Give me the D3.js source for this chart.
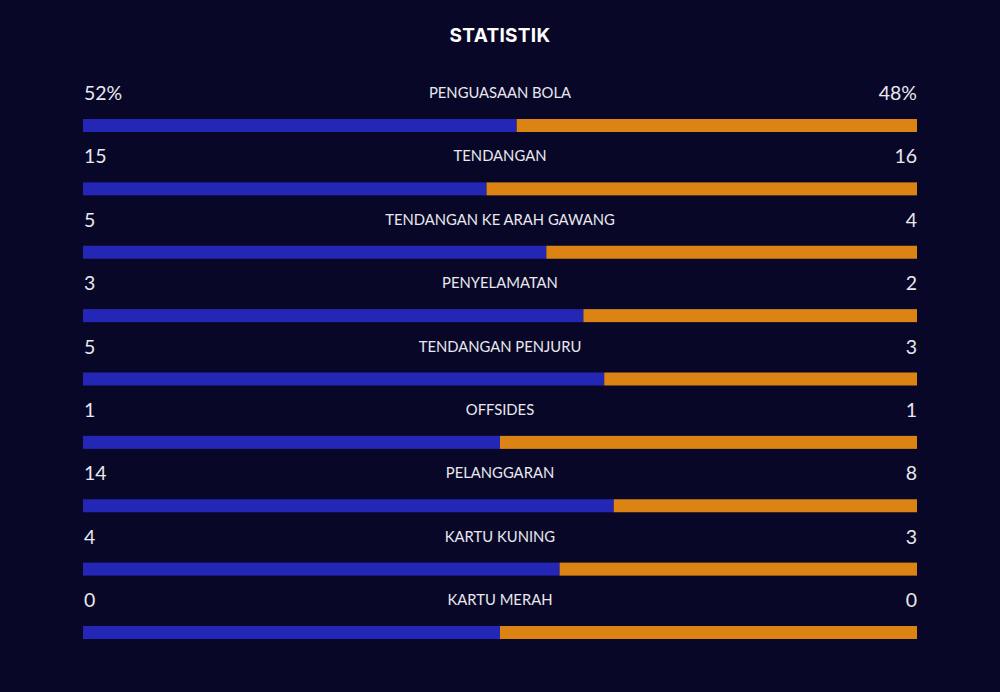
<!DOCTYPE html>
<html><head><meta charset="utf-8">
<script src="https://cdn.jsdelivr.net/npm/d3@7"></script>
<style>
html,body{margin:0;padding:0;background:#080727;}
svg{display:block;}
</style></head>
<body>
<svg id="chart" width="1000" height="692"></svg>
<script>
const title = "STATISTIK";
const categories = ["PENGUASAAN BOLA","TENDANGAN","TENDANGAN KE ARAH GAWANG","PENYELAMATAN","TENDANGAN PENJURU","OFFSIDES","PELANGGARAN","KARTU KUNING","KARTU MERAH"];
const homeValues = [52,15,5,3,5,1,14,4,0];
const awayValues = [48,16,4,2,3,1,8,3,0];
const valueSuffix = ["%","","","","","","","",""];

const W = 1000, H = 692;
const svg = d3.select("#chart");
svg.append("rect").attr("width",W).attr("height",H).attr("fill","#080727");

const left = 83, right = 917, barH = 13;
const x = d3.scaleLinear().domain([0,1]).range([left,right]);
const y = d3.scaleLinear().domain([0,categories.length-1]).range([119,626]);

svg.append("text").attr("x",500).attr("y",42).attr("text-anchor","middle")
  .attr("fill","#ffffff").attr("font-family","Inter, 'Open Sans', sans-serif")
  .attr("font-weight",700).attr("font-size",19).attr("letter-spacing",0.3).text(title);

const rows = svg.selectAll("g.row").data(categories.map((c,i)=>({c,i,h:homeValues[i],a:awayValues[i]})))
  .enter().append("g").attr("class","row");

rows.each(function(d){
  const g = d3.select(this);
  const tot = d.h + d.a;
  const share = tot === 0 ? 0.5 : d.h / tot;
  const yy = y(d.i);
  g.append("rect").attr("x",x(0)).attr("y",yy).attr("width",x(share)-x(0)).attr("height",barH).attr("fill","#2426b6");
  g.append("rect").attr("x",x(share)).attr("y",yy).attr("width",x(1)-x(share)).attr("height",barH).attr("fill","#db8414");
  g.append("text").attr("x",left+1).attr("y",yy-19).attr("fill","#e8e8ee")
    .attr("font-family","Lato, sans-serif").attr("font-size",19.5).text(d.h+valueSuffix[d.i]);
  g.append("text").attr("x",right).attr("y",yy-19).attr("text-anchor","end").attr("fill","#e8e8ee")
    .attr("font-family","Lato, sans-serif").attr("font-size",19.5).text(d.a+valueSuffix[d.i]);
  g.append("text").attr("x",500).attr("y",yy-21).attr("text-anchor","middle").attr("fill","#e8e8ee")
    .attr("font-family","Lato, sans-serif").attr("font-size",14.8).text(d.c);
});
</script>
</body></html>
